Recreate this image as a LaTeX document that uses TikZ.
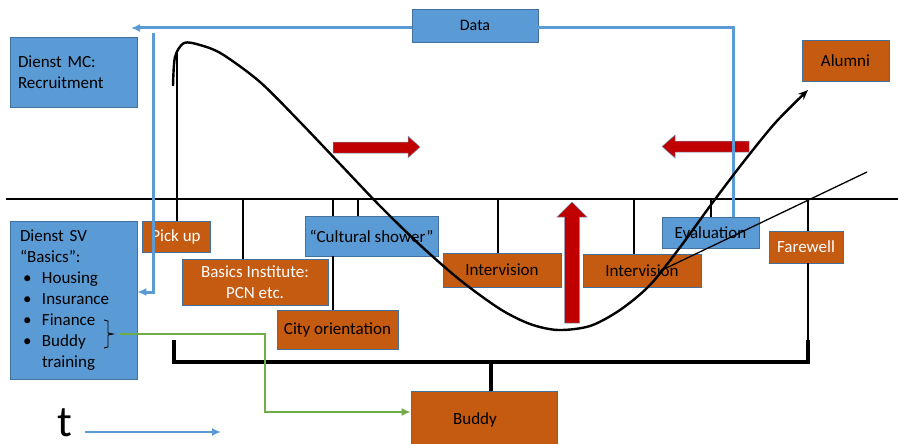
\documentclass[tikz,border=0pt]{standalone}
\usepackage{fontspec}
\setmainfont{Carlito}
\usetikzlibrary{arrows.meta}

\definecolor{boxblue}{HTML}{5B9BD5}
\definecolor{boxorange}{HTML}{C55A11}
\definecolor{edgeblue}{HTML}{41719C}
\definecolor{arrowred}{HTML}{C00000}
\definecolor{linkgreen}{HTML}{70AD47}

\tikzset{
  box/.style={draw=edgeblue, line width=0.7pt, rectangle, inner sep=2pt,
    font=\fontsize{17}{21}\selectfont, align=center},
  bluebox/.style={box, fill=boxblue, text=black},
  orangebox/.style={box, fill=boxorange, text=black},
  whitebox/.style={box, fill=boxorange, text=white},
  tick/.style={draw=black, line width=1.3pt},
  bracket/.style={draw=black, line width=3.2pt},
  bluepath/.style={draw=boxblue, line width=3pt},
  bluelink/.style={bluepath, -{Latex[length=9pt,width=8pt]}},
  greenlink/.style={draw=linkgreen, line width=2.6pt, -{Latex[length=9pt,width=8pt]}},
  redarrow/.style={fill=arrowred, draw=edgeblue!70, line width=0.5pt},
}

\begin{document}
\begin{tikzpicture}[x=1pt, y=-1pt]
\useasboundingbox (0,0) rectangle (898,444);

% time axis and ticks
\draw[line width=1.7pt] (6,199) -- (898,199);
\coordinate (brL) at (174,340);
\coordinate (brR) at (808,340);

\node[whitebox, minimum width=68pt, minimum height=31pt] (pickup) at (176,236.5) {Pick up};
\node[whitebox, minimum width=146pt, minimum height=46pt] (basics) at (255,282) {Basics Institute:\\PCN etc.};
\node[bluebox, minimum width=133pt, minimum height=40pt] (culture) at (371.5,236) {“Cultural shower”};
\node[orangebox, minimum width=121pt, minimum height=39pt] (city) at (337.5,329.5) {City orientation};
\node[orangebox, minimum width=118pt, minimum height=34pt] (interA) at (502,270) {Intervision};
\node[orangebox, minimum width=118pt, minimum height=33pt] (interB) at (642,270.5) {Intervision};
\node[bluebox, minimum width=97pt, minimum height=31pt] (evalb) at (710.5,232.5) {Evaluation};
\node[whitebox, minimum width=74pt, minimum height=32pt] (farewell) at (806,247) {Farewell};
\node[orangebox, minimum width=87pt, minimum height=41pt] (alumni) at (845.5,60.5) {Alumni};
\node[orangebox, minimum width=146pt, minimum height=57pt] (buddy) at (484,419.5) {Buddy\hspace*{18pt}};
\node[bluebox, minimum width=126pt, minimum height=33pt, font=\fontsize{16}{20}\selectfont] (datab) at (475,25.5) {Data};
\node[bluebox, minimum width=127pt, minimum height=70pt, align=left, text width=111pt] (dienstmc) at (73.5,72) {Dienst MC:\\Recruitment};
\node[bluebox, minimum width=127pt, minimum height=158pt, align=left, text width=107pt] (dienstsv) at (73.5,300)
  {Dienst SV\\“Basics”:\\
   \hspace*{3pt}\makebox[19pt][l]{\textbullet}Housing\\
   \hspace*{3pt}\makebox[19pt][l]{\textbullet}Insurance\\
   \hspace*{3pt}\makebox[19pt][l]{\textbullet}Finance\\
   \hspace*{3pt}\makebox[19pt][l]{\textbullet}Buddy\\
   \hspace*{22pt}training};

\foreach \tx/\bx in {243/basics, 333/culture, 358/culture, 498/interA, 634/interB, 711/evalb}
  \draw[tick] (\tx,199) -- (\bx.north -| \tx,0);
\draw[tick] (177,50) -- (pickup.north -| 177,0);
\draw[tick] (culture.south -| 333,0) -- (city.north -| 333,0);
\draw[tick] (808,199) -- (farewell.north -| 808,0);
\draw[tick] (farewell.south -| 808,0) -- (brR);

% buddy bracket
\draw[bracket] (brL) |- (brR |- 0,362) -- (brR);
\draw[bracket] (491,362) -- (buddy.north -| 491,0);

% red arrows
\fill[redarrow] (333,142) -- (408,142) -- (408,136) -- (420,147) -- (408,158) -- (408,153) -- (333,153) -- cycle;
\fill[redarrow] (749,141) -- (675,141) -- (675,135) -- (662,146.5) -- (675,158) -- (675,152) -- (749,152) -- cycle;
\fill[redarrow] (564.5,323) -- (564.5,217) -- (557,217) -- (572,202) -- (587,217) -- (579.5,217) -- (579.5,323) -- cycle;

% data flow
\coordinate (mcarrow) at (131,28);
\coordinate (svtop) at (153,33);
\draw[bluepath] ([xshift=22.5pt]evalb.north) |- ([yshift=-2.5pt]datab.east);
\draw[bluelink] ([yshift=-2.5pt]datab.west) -- (mcarrow);
\draw[bluelink] (svtop) |- ([yshift=8pt]dienstsv.east);

% brace and buddy training
\draw[line width=0.9pt] (104,320) -- (108,321) -- (108,333) -- (113,334) -- (108,335) -- (108,347) -- (104,348);
\coordinate (bracetip) at (120,334);
\draw[greenlink] (bracetip) -| (265,412) -- ([yshift=7.5pt]buddy.west);

% culture shock curve
\draw[line width=2.4pt, -{Stealth[length=10pt,width=8pt]}] plot[smooth, tension=0.5] coordinates {
  (173,86) (175,57) (184,43) (200,45) (222,54) (260,82) (300,122) (340,164) (380,206)
  (420,245) (460,280) (500,309) (530,324) (558,330) (590,326) (620,310) (650,285)
  (681,246) (713,202) (745,160) (776,122) (808,90)};
\draw[line width=1.3pt] (867,172) -- (660,271);

% time
\node[font=\fontsize{44}{44}\selectfont, anchor=base, inner sep=0pt] (tlabel) at (64.5,436) {t};
\coordinate (tstart) at (85,432);
\coordinate (tend) at (221,432);
\draw[bluelink, line width=2.2pt] (tstart) -- (tend);
\end{tikzpicture}
\end{document}
